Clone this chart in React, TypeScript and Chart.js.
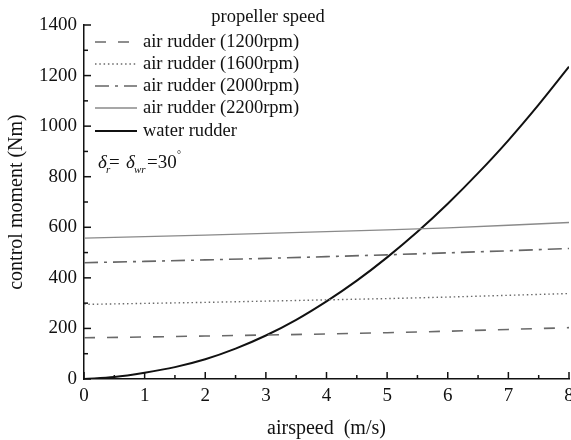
import React, { useEffect, useRef } from "react";
import { Chart, registerables } from "chart.js";

Chart.register(...registerables);

const airSpeeds = [0, 1, 2, 3, 4, 5, 6, 7, 8];
const air1200 = [163, 166, 170, 174, 178, 183, 189, 196, 203];
const air1600 = [295, 299, 303, 308, 313, 318, 324, 331, 338];
const air2000 = [460, 465, 471, 477, 484, 491, 499, 507, 516];
const air2200 = [557, 563, 569, 576, 583, 590, 598, 608, 619];

const waterSpeeds = [0, 0.5, 1, 1.5, 2, 2.5, 3, 3.5, 4, 4.5, 5, 5.5, 6, 6.5, 7, 7.5, 8];
const waterRudder = [0, 8, 25, 47, 78, 120, 172, 234, 307, 389, 481, 582, 693, 814, 944, 1085, 1235];

const xTicks = [0, 1, 2, 3, 4, 5, 6, 7, 8];
const yTicks = [0, 200, 400, 600, 800, 1000, 1200, 1400];

const seriesLabels = [
  "air rudder (1200rpm)",
  "air rudder (1600rpm)",
  "air rudder (2000rpm)",
  "air rudder (2200rpm)",
  "water rudder",
];
const legendTitle = "propeller speed";
const xTitle = "airspeed  (m/s)";
const yTitle = "control moment (Nm)";

const FONT = "'Liberation Serif', 'Times New Roman', serif";

const toPts = (xs: number[], ys: number[]) => xs.map((x, i) => ({ x, y: ys[i] }));

const innerTicks = {
  id: "innerTicks",
  afterDraw(chart: any) {
    const { ctx, chartArea, scales } = chart;
    const xs = scales.x;
    const ys = scales.y;
    ctx.save();
    ctx.strokeStyle = "#111";
    ctx.lineWidth = 1.5;
    for (let v = 0; v <= 8.001; v += 0.5) {
      const px = xs.getPixelForValue(v);
      const major = Math.abs(v - Math.round(v)) < 1e-6;
      const len = major ? 7 : 4;
      ctx.beginPath();
      ctx.moveTo(px, chartArea.bottom);
      ctx.lineTo(px, chartArea.bottom - len);
      ctx.stroke();
    }
    for (let v = 0; v <= 1400; v += 100) {
      const py = ys.getPixelForValue(v);
      const major = v % 200 === 0;
      const len = major ? 7 : 4;
      ctx.beginPath();
      ctx.moveTo(chartArea.left, py);
      ctx.lineTo(chartArea.left + len, py);
      ctx.stroke();
    }
    ctx.restore();
  },
};

const customLegend = {
  id: "customLegend",
  afterDraw(chart: any) {
    const { ctx } = chart;
    ctx.save();
    ctx.fillStyle = "#111";
    ctx.textBaseline = "middle";
    ctx.font = `18.5px ${FONT}`;
    ctx.textAlign = "center";
    ctx.fillText(legendTitle, 268, 17);
    ctx.textAlign = "left";
    const rowsY = [42, 64, 86, 108, 131];
    chart.data.datasets.forEach((ds: any, i: number) => {
      const y = rowsY[i];
      ctx.save();
      ctx.strokeStyle = ds.borderColor;
      ctx.lineWidth = ds.borderWidth;
      ctx.setLineDash(ds.borderDash || []);
      ctx.beginPath();
      ctx.moveTo(95, y);
      ctx.lineTo(137, y);
      ctx.stroke();
      ctx.restore();
      ctx.fillText(ds.label, 143, y);
    });
    // delta annotation
    const y0 = 163;
    ctx.font = `italic 19px ${FONT}`;
    ctx.fillText("δ", 98, y0);
    ctx.font = `italic 11px ${FONT}`;
    ctx.fillText("r", 106, y0 + 7);
    ctx.font = `19px ${FONT}`;
    ctx.fillText("=", 109, y0);
    ctx.font = `italic 19px ${FONT}`;
    ctx.fillText("δ", 126, y0);
    ctx.font = `italic 11px ${FONT}`;
    ctx.fillText("wr", 134, y0 + 7);
    ctx.font = `19px ${FONT}`;
    ctx.fillText("=30", 147, y0);
    ctx.font = `10px ${FONT}`;
    ctx.fillText("°", 177, y0 - 8);
    ctx.restore();
  },
};

export default function App() {
  const ref = useRef<HTMLCanvasElement | null>(null);
  useEffect(() => {
    if (!ref.current) return;
    const chart = new Chart(ref.current, {
      type: "line",
      data: {
        datasets: [
          {
            label: seriesLabels[0],
            data: toPts(airSpeeds, air1200),
            borderColor: "#6a6a6a",
            borderWidth: 1.6,
            borderDash: [11, 12],
            pointRadius: 0,
            fill: false,
          },
          {
            label: seriesLabels[1],
            data: toPts(airSpeeds, air1600),
            borderColor: "#6a6a6a",
            borderWidth: 1.4,
            borderDash: [1.5, 2.8],
            pointRadius: 0,
            fill: false,
          },
          {
            label: seriesLabels[2],
            data: toPts(airSpeeds, air2000),
            borderColor: "#666666",
            borderWidth: 1.6,
            borderDash: [14, 6, 3, 6],
            pointRadius: 0,
            fill: false,
          },
          {
            label: seriesLabels[3],
            data: toPts(airSpeeds, air2200),
            borderColor: "#8a8a8a",
            borderWidth: 1.3,
            pointRadius: 0,
            fill: false,
          },
          {
            label: seriesLabels[4],
            data: toPts(waterSpeeds, waterRudder),
            borderColor: "#111111",
            borderWidth: 2,
            pointRadius: 0,
            cubicInterpolationMode: "monotone",
            fill: false,
          },
        ],
      },
      options: {
        responsive: false,
        animation: false,
        devicePixelRatio: 1,
        layout: { padding: { left: 0, right: 2, top: 25, bottom: 0 } },
        plugins: {
          legend: { display: false },
          tooltip: { enabled: false },
        },
        scales: {
          x: {
            type: "linear",
            min: 0,
            max: 8,
            afterBuildTicks: (s: any) => {
              s.ticks = xTicks.map((v) => ({ value: v }));
            },
            afterFit: (s: any) => {
              s.height = 61;
              s.paddingLeft = 0;
              s.paddingRight = 0;
            },
            grid: { display: true, drawOnChartArea: false, drawTicks: false },
            border: { display: true, color: "#111", width: 1.5 },
            ticks: {
              color: "#111",
              font: { family: FONT, size: 19 },
              padding: 6,
              maxRotation: 0,
              autoSkip: false,
              callback: (v: any) => String(v),
            },
            title: {
              display: true,
              text: xTitle,
              color: "#111",
              font: { family: FONT, size: 20, lineHeight: 1 },
              padding: { top: 0, bottom: 1 },
            },
          },
          y: {
            type: "linear",
            min: 0,
            max: 1400,
            afterBuildTicks: (s: any) => {
              s.ticks = yTicks.map((v) => ({ value: v }));
            },
            afterFit: (s: any) => {
              s.width = 84;
              s.paddingTop = 0;
              s.paddingBottom = 0;
            },
            grid: { display: true, drawOnChartArea: false, drawTicks: false },
            border: { display: true, color: "#111", width: 1.5 },
            ticks: {
              color: "#111",
              font: { family: FONT, size: 19 },
              padding: 7,
              callback: (v: any) => String(v),
            },
            title: {
              display: true,
              text: yTitle,
              color: "#111",
              font: { family: FONT, size: 20, lineHeight: 1 },
              padding: { top: 7, bottom: 0 },
            },
          },
        },
      },
      plugins: [innerTicks, customLegend],
    } as any);
    return () => chart.destroy();
  }, []);

  return (
    <div style={{ position: "absolute", left: 0, top: 0, width: 571, height: 440, background: "#fff" }}>
      <canvas ref={ref} width={571} height={440} style={{ display: "block", width: 571, height: 440 }} />
    </div>
  );
}
